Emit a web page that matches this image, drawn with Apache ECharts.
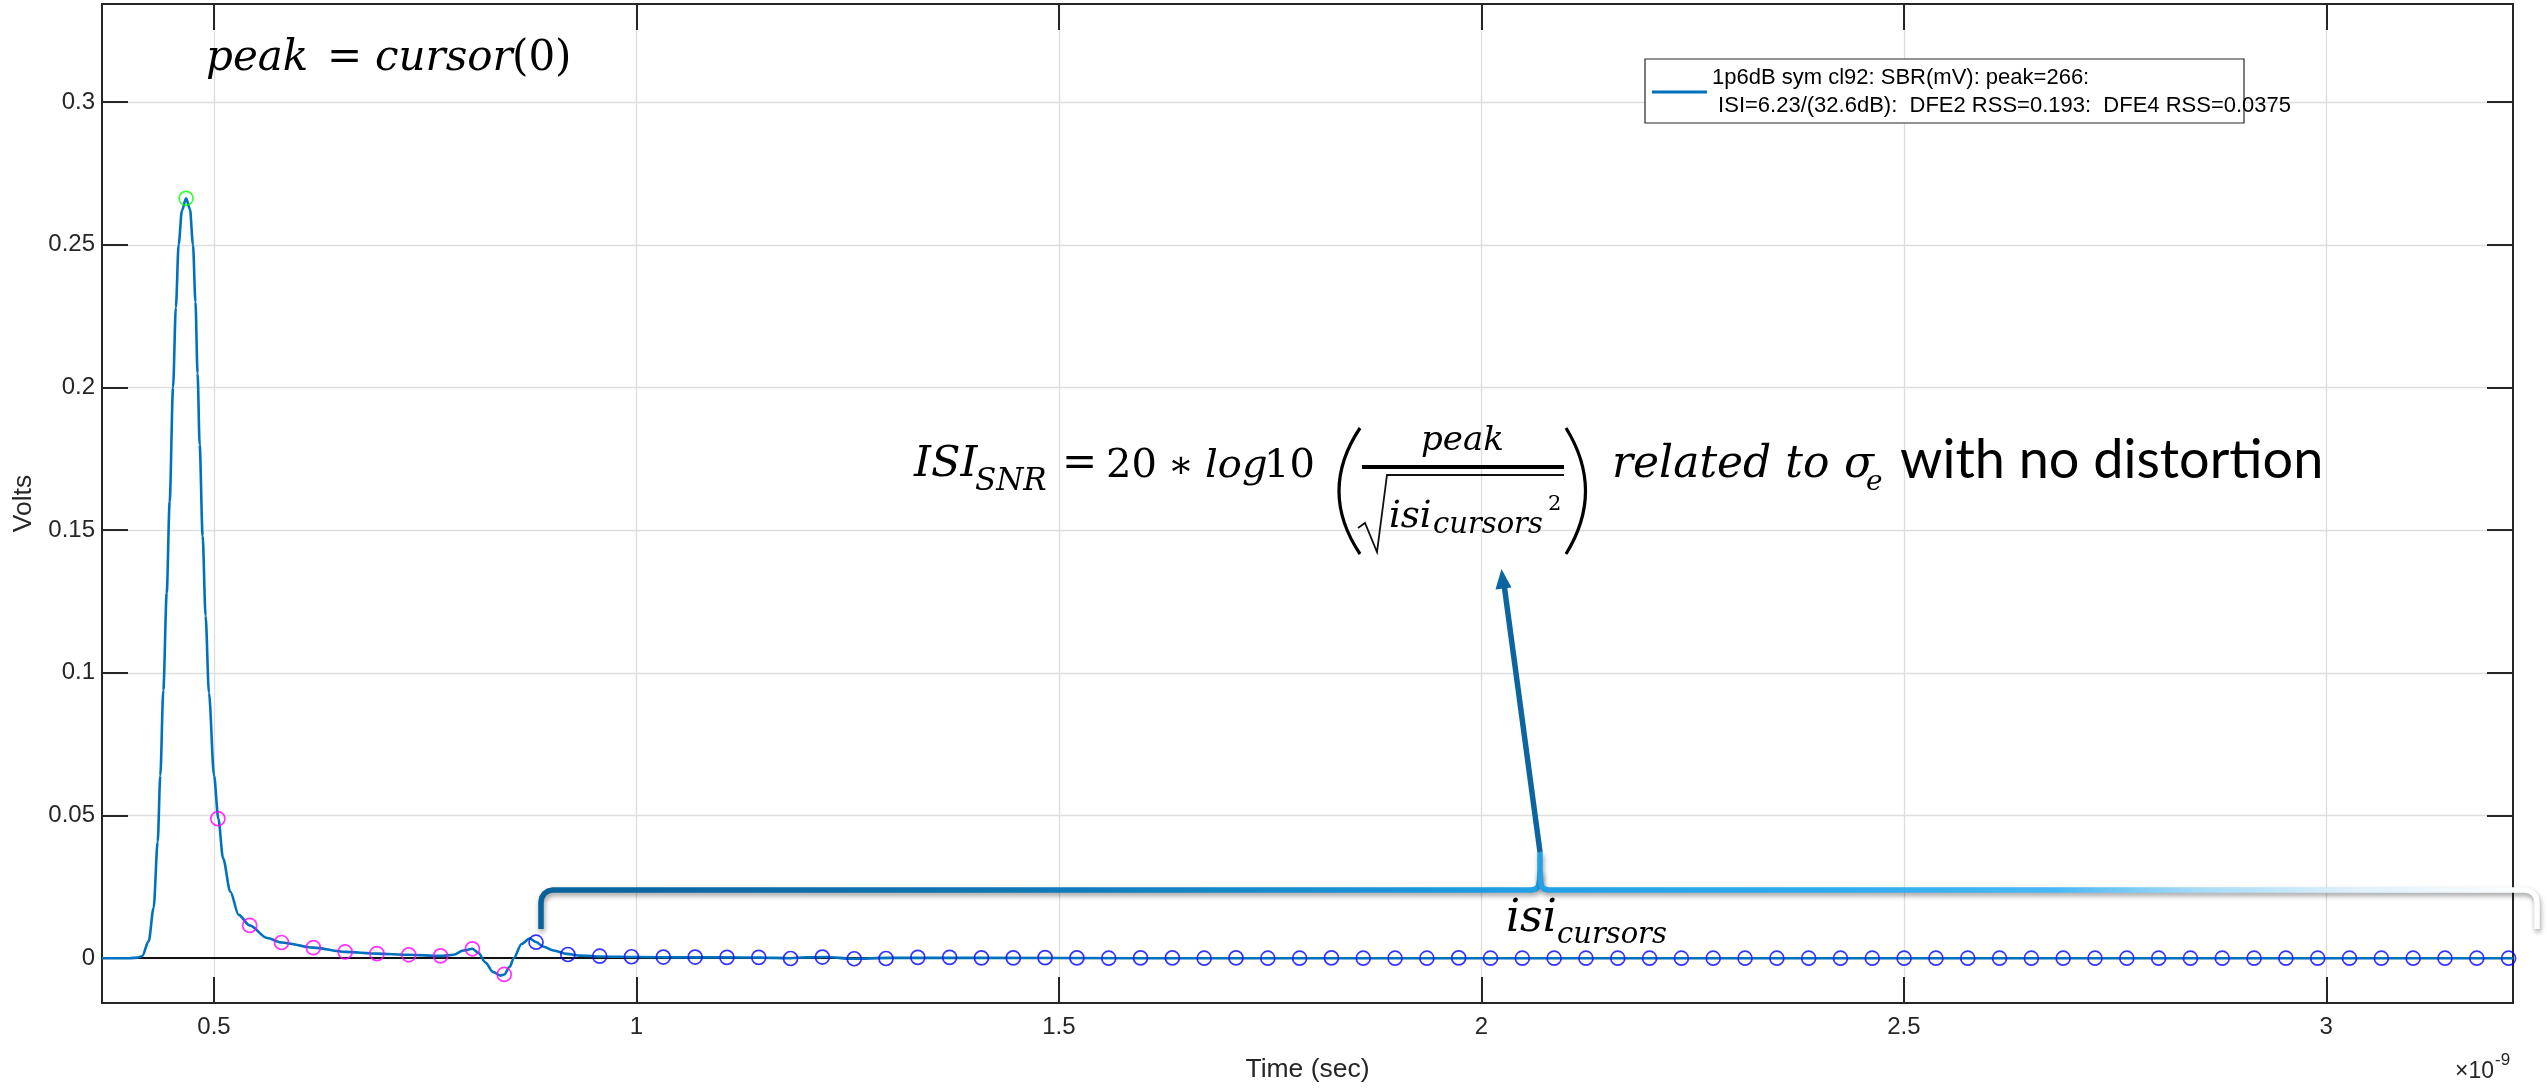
<!DOCTYPE html>
<html>
<head>
<meta charset="utf-8">
<script src="https://cdn.jsdelivr.net/npm/echarts@6/dist/echarts.min.js"></script>
<style>
html,body{margin:0;padding:0;background:#fff;}
#c{width:2547px;height:1088px;}
</style>
</head>
<body>
<div id="c"></div>
<script>
// ---------------- data ----------------
// pulse response, time in ns (axis shows x10^-9), volts
const pulseTime = [0.3674, 0.400, 0.409, 0.4148, 0.4226, 0.4285, 0.4333, 0.4364, 0.4400, 0.4440,
  0.4475, 0.4515, 0.4548, 0.4581, 0.4620, 0.4669, 0.4715, 0.4751, 0.4780, 0.4805,
  0.4830, 0.4865, 0.4900, 0.4940, 0.5000, 0.5051, 0.5107, 0.5193, 0.5291, 0.5422,
  0.5627, 0.5799, 0.6176, 0.6552, 0.6929, 0.7305, 0.7682, 0.7836, 0.7950, 0.8058,
  0.8130, 0.8212, 0.8300, 0.8392, 0.8435, 0.8500, 0.8547, 0.8640, 0.8736, 0.8811,
  0.8900, 0.9019, 0.9177, 0.9335, 0.9573, 1.000, 1.050, 1.100, 1.150, 1.182,
  1.200, 1.225, 1.255, 1.300, 1.400, 1.600, 2.000, 2.500, 3.000, 3.221];
const pulseVolts = [0, 0, 0.0002, 0.0007, 0.0059, 0.0176, 0.0408, 0.0640, 0.0940, 0.1280,
  0.1600, 0.2000, 0.2280, 0.2500, 0.2620, 0.2663, 0.2625, 0.2500, 0.2300, 0.2050,
  0.1800, 0.1480, 0.1200, 0.0930, 0.0640, 0.0489, 0.0350, 0.0233, 0.0152, 0.0115,
  0.0071, 0.0055, 0.0037, 0.0022, 0.0016, 0.0012, 0.0008, 0.0012, 0.0027, 0.0033,
  0.0018, -0.0015, -0.0048, -0.0061, -0.0057, -0.0030, 0.0000, 0.0050, 0.0069, 0.0057,
  0.0040, 0.0027, 0.0015, 0.0009, 0.0006, 0.0004, 0.0003, 0.0003, 0.0002, 0.0000,
  0.0003, 0.0004, -0.0002, 0.0001, 0.0001, 0.0000, 0.0000, 0.0000, 0.0000, 0.0000];

// cursor sampling (one UI apart, starting at the peak)
const cursorStart = 0.4669;   // ns
const unitInterval = 0.037656; // ns
const peakCursor = [0.2663];
const dfeCursors = [0.0489, 0.0115, 0.0055, 0.0037, 0.0022, 0.0016, 0.0012, 0.0008, 0.0033, -0.0057];
const isiCursors = [0.0056, 0.0013, 0.0007, 0.0005, 0.0004, 0.0004, 0.0003, 0.0003, -0.0001, 0.0004,
  -0.0002, -0.0001, 0.0003, 0.0003, 0.0001, 0.0001, 0.0002, 0.0001, 0.0000, 0.0001,
  0.0001, 0.0000, 0.0001, 0.0000, 0.0000, 0.0001, 0.0000, 0.0000, 0.0000, 0.0001,
  0.0000, 0.0000, 0.0000, 0.0000, 0.0000, 0.0000, 0.0000, 0.0000, 0.0000, 0.0000,
  0.0000, 0.0000, 0.0000, 0.0000, 0.0000, 0.0000, 0.0000, 0.0000, 0.0000, 0.0000,
  0.0000, 0.0000, 0.0000, 0.0000, 0.0000, 0.0000, 0.0000, 0.0000, 0.0000, 0.0000,
  0.0000, 0.0000, 0.0000];

const xTickValues = [0.5, 1, 1.5, 2, 2.5, 3];
const xTickLabels = ['0.5', '1', '1.5', '2', '2.5', '3'];
const yTickValues = [0, 0.05, 0.1, 0.15, 0.2, 0.25, 0.3];
const yTickLabels = ['0', '0.05', '0.1', '0.15', '0.2', '0.25', '0.3'];

const seriesName = '1p6dB sym cl92: SBR(mV): peak=266:\n ISI=6.23/(32.6dB):  DFE2 RSS=0.193:  DFE4 RSS=0.0375';

// ---------------- chart ----------------
const X_MIN = 0.3674, X_MAX = 3.221, Y_MIN = -0.0157, Y_MAX = 0.3344;
const SANS = '"Liberation Sans", Arial, Helvetica, sans-serif';
const MATH = '"DejaVu Serif", "Liberation Serif", serif';
const AX = '#262626';

function labelOf(values, labels) {
  return function (v) {
    const i = values.findIndex(t => Math.abs(t - v) < 1e-7);
    return i >= 0 ? labels[i] : '';
  };
}
function cursorPoints(vals, k0) {
  return vals.map((v, i) => [cursorStart + (k0 + i) * unitInterval, v]);
}

function txt(x, base, text, size, opts) {
  opts = opts || {};
  const mid = opts.mid != null ? opts.mid : 0.346;
  return {
    type: 'text', z: 100, silent: true,
    style: {
      text: text, x: x, y: base - mid * size,
      fontSize: size, fontFamily: opts.family || MATH,
      fontStyle: opts.italic === false ? 'normal' : 'italic',
      fill: opts.color || '#000',
      align: opts.align || 'left', textAlign: opts.align || 'left',
      verticalAlign: 'middle', textVerticalAlign: 'middle'
    }
  };
}

const braceGrad = new echarts.graphic.LinearGradient(541, 0, 2537, 0, [
  {offset: 0, color: '#0a629b'},
  {offset: 0.25, color: '#1078b6'},
  {offset: 0.43, color: '#1a95da'},
  {offset: 0.5, color: '#22a1e6'},
  {offset: 0.65, color: '#2eabef'},
  {offset: 0.76, color: '#4ab8f4'},
  {offset: 0.83, color: '#a5dbf8'},
  {offset: 0.91, color: '#dff1fc'},
  {offset: 1, color: '#ffffff'}
], true);
const braceStyle = {
  stroke: braceGrad, lineWidth: 5.5, fill: null, lineJoin: 'round', lineCap: 'butt',
  shadowColor: 'rgba(0,0,0,0.38)', shadowBlur: 5, shadowOffsetX: 1, shadowOffsetY: 3
};

const graphics = [
  // legend frame (MATLAB legend box, text overflows it on the right)
  {type: 'rect', z: 4, silent: true, shape: {x: 1645, y: 59, width: 599, height: 64},
    style: {fill: '#fff', stroke: AX, lineWidth: 1.2}},

  // peak = cursor(0)
  txt(206, 74, 'peak', 42),
  txt(327, 74, '=', 42, {italic: false}),
  txt(375, 74, 'cursor', 42),
  txt(512, 74, '(0)', 42, {italic: false}),

  // ISI_SNR formula
  txt(914, 480, 'ISI', 43),
  txt(975, 493, 'SNR', 31),
  txt(1062, 480, '=', 42, {italic: false}),
  txt(1106, 480, '20', 40, {italic: false}),
  txt(1168, 480, '\u2217', 38, {italic: false}),
  txt(1205, 480, 'log', 40),
  txt(1264, 480, '10', 40, {italic: false}),
  {type: 'bezierCurve', z: 100, silent: true,
    shape: {x1: 1360, y1: 428, cpx1: 1318, cpy1: 491, x2: 1360, y2: 554},
    style: {stroke: '#000', lineWidth: 3.2, fill: null}},
  txt(1421, 453, 'peak', 34),
  {type: 'line', z: 100, silent: true, shape: {x1: 1362, y1: 467, x2: 1564, y2: 467},
    style: {stroke: '#000', lineWidth: 4}},
  {type: 'polyline', z: 100, silent: true,
    shape: {points: [[1358, 528], [1365, 523], [1377, 552], [1387, 475], [1564, 475]]},
    style: {stroke: '#111', lineWidth: 1.8, fill: null, lineJoin: 'miter'}},
  txt(1389, 530, 'isi', 37),
  txt(1433, 536, 'cursors', 29),
  txt(1548, 512, '2', 21, {italic: false}),
  {type: 'bezierCurve', z: 100, silent: true,
    shape: {x1: 1566, y1: 428, cpx1: 1605, cpy1: 491, x2: 1566, y2: 554},
    style: {stroke: '#000', lineWidth: 3.2, fill: null}},
  txt(1612, 481, 'related to', 44),
  txt(1844, 481, '\u03c3', 44),
  txt(1866, 492, 'e', 28),
  txt(1900, 481, 'with no distortion', 54, {family: 'Lato, "Open Sans", sans-serif', italic: false, mid: 0.387}),

  // brace under the ISI cursors
  {type: 'polyline', z: 90, silent: true,
    shape: {points: [[541, 929], [541, 902], [541.9, 897.4], [544.5, 893.5], [548.4, 890.9], [553, 890],
      [1532, 890], [1536, 889], [1538.5, 886], [1539.6, 880], [1540, 872], [1540, 852]]},
    style: braceStyle},
  {type: 'polyline', z: 90, silent: true,
    shape: {points: [[1540, 872], [1540.4, 880], [1541.5, 886], [1544, 889], [1548, 890],
      [2525, 890], [2529.6, 890.9], [2533.5, 893.5], [2536.1, 897.4], [2537, 902], [2537, 929]]},
    style: braceStyle},
  // arrow to the formula
  {type: 'line', z: 91, silent: true, shape: {x1: 1540, y1: 852, x2: 1504, y2: 584},
    style: {stroke: '#0b66a0', lineWidth: 5.5}},
  {type: 'polygon', z: 91, silent: true,
    shape: {points: [[1501.5, 569], [1511.5, 587.5], [1495.5, 589.5]]},
    style: {fill: '#0b66a0'}},
  // isi_cursors label
  txt(1506, 935, 'isi', 44),
  txt(1557, 946, 'cursors', 29),

  // x10^-9 exponent label
  txt(2494, 1080, '\u00d710', 23, {family: SANS, italic: false, color: AX, align: 'right'}),
  txt(2495, 1066, '-9', 17, {family: SANS, italic: false, color: AX})
];

function xAxisCfg(pos, main) {
  return {
    type: 'value', position: pos, min: X_MIN, max: X_MAX,
    name: main ? 'Time (sec)' : '', nameLocation: 'middle', nameGap: 53,
    nameTextStyle: {fontSize: 26.5, color: AX, fontFamily: SANS},
    axisLine: {show: true, onZero: false, lineStyle: {color: AX, width: 2}},
    axisTick: {show: true, inside: true, length: 26, customValues: xTickValues, lineStyle: {color: AX, width: 2}},
    axisLabel: {show: main, customValues: xTickValues, formatter: labelOf(xTickValues, xTickLabels),
      fontSize: 24, color: AX, fontFamily: SANS, margin: 12},
    splitLine: {show: main, lineStyle: {color: '#dedede', width: 1.3}}
  };
}
function yAxisCfg(pos, main) {
  return {
    type: 'value', position: pos, min: Y_MIN, max: Y_MAX,
    name: main ? 'Volts' : '', nameLocation: 'middle', nameGap: 52,
    nameTextStyle: {fontSize: 26.5, color: AX, fontFamily: SANS},
    axisLine: {show: true, onZero: false, lineStyle: {color: AX, width: 2}},
    axisTick: {show: true, inside: true, length: 26, customValues: yTickValues, lineStyle: {color: AX, width: 2}},
    axisLabel: {show: main, customValues: yTickValues, formatter: labelOf(yTickValues, yTickLabels),
      fontSize: 24, color: AX, fontFamily: SANS, margin: 7},
    splitLine: {show: main, lineStyle: {color: '#dedede', width: 1.3}}
  };
}

const circle = (color) => ({
  symbol: 'circle', symbolSize: 14,
  itemStyle: {color: 'rgba(0,0,0,0)', borderColor: color, borderWidth: 1.7}
});

const option = {
  animation: false,
  backgroundColor: '#ffffff',
  grid: {left: 102, right: 34, top: 4, bottom: 79, containLabel: false},
  xAxis: [xAxisCfg('bottom', true), xAxisCfg('top', false)],
  yAxis: [yAxisCfg('left', true), yAxisCfg('right', false)],
  legend: {
    data: [seriesName], left: 1645, top: 59, orient: 'vertical', z: 6,
    icon: 'rect', itemWidth: 55, itemHeight: 3,
    padding: [5, 2, 3, 7],
    backgroundColor: 'transparent', borderWidth: 0,
    selectedMode: false,
    textStyle: {fontSize: 22, lineHeight: 28, fontFamily: SANS, color: '#000'}
  },
  series: [
    {
      name: seriesName, type: 'line', z: 3,
      data: pulseTime.map((t, i) => [t, pulseVolts[i]]),
      showSymbol: false, smooth: 0.3, smoothMonotone: 'x',
      color: '#0072BD',
      lineStyle: {color: '#0072BD', width: 2.6},
      markLine: {
        silent: true, symbol: 'none', z: 1, label: {show: false},
        lineStyle: {color: '#111111', width: 2, type: 'solid', opacity: 1},
        emphasis: {disabled: true},
        data: [{yAxis: 0}]
      }
    },
    Object.assign({name: 'cursor 0', type: 'scatter', z: 5, data: cursorPoints(peakCursor, 0)}, circle('#00ff00')),
    Object.assign({name: 'DFE cursors', type: 'scatter', z: 5, data: cursorPoints(dfeCursors, 1)}, circle('#ff00ff')),
    Object.assign({name: 'ISI cursors', type: 'scatter', z: 5, data: cursorPoints(isiCursors, 11)}, circle('#0000ff'))
  ],
  graphic: graphics
};

const chart = echarts.init(document.getElementById('c'), null, {renderer: 'canvas', width: 2547, height: 1088});
chart.setOption(option);
</script>
</body>
</html>
